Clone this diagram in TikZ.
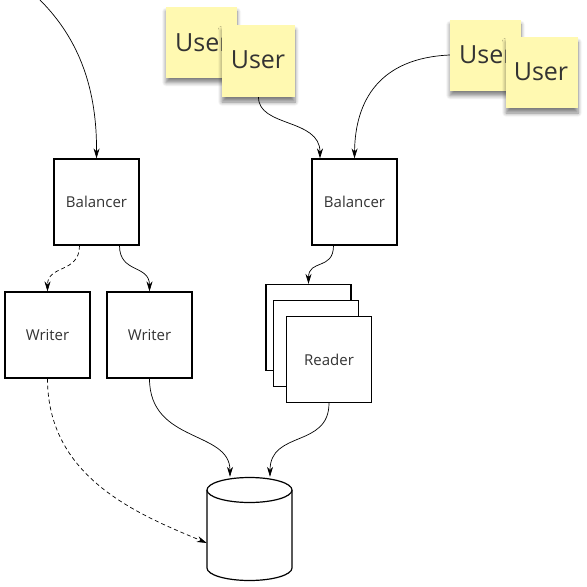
\documentclass[tikz,border=0pt]{standalone}
\usepackage{fontspec}
\setmainfont{Open Sans}
\usetikzlibrary{arrows.meta,shadows.blur}
\definecolor{sticky}{HTML}{FFF9B1}
\definecolor{txt}{HTML}{333333}
\tikzset{
  box/.style={draw=black,line width=1.2pt,fill=white,minimum width=85pt,minimum height=86pt,inner sep=0pt,text=txt,font=\fontsize{15pt}{17pt}\selectfont},
  note/.style={fill=sticky,minimum width=71pt,minimum height=71pt,inner sep=0pt,
    blur shadow={shadow xshift=0pt,shadow yshift=-5pt,shadow blur radius=4pt,shadow blur steps=6,shadow opacity=50}},
  notetext/.style={text=txt,font=\fontsize{25pt}{27pt}\selectfont,inner sep=0pt},
  conn/.style={draw=black,line width=0.7pt,-{Stealth[length=10pt,width=6pt]}},
  dconn/.style={conn,dash pattern=on 4pt off 3pt},
}
\begin{document}
\begin{tikzpicture}[x=1pt,y=-1pt]
\useasboundingbox (0,0) rectangle (587,587);
% sticky notes left
\node[note] (n1) at (201.5,42) {};
\node[notetext,anchor=west] (t1) at (175,43) {User};
\node[note,minimum width=73pt,minimum height=72pt] (n2) at (258.5,61) {};
\node[notetext] (t2) at (258,60) {User};
% sticky notes right
\node[note] (n3) at (485.5,55) {};
\node[notetext,anchor=west] (t3) at (459,55) {User};
\node[note,minimum width=72pt,minimum height=71pt] (n4) at (542,72.5) {};
\node[notetext] (t4) at (541,72) {User};
% boxes
\node[box] (lb) at (96.5,202) {Balancer};
\node[box] (w1) at (47.5,335) {Writer};
\node[box] (w2) at (149.5,335) {Writer};
\node[box] (rb) at (354.5,202) {Balancer};
\node[box] (r1) at (308.5,327.5) {};
\node[box] (r2) at (316,343.5) {};
\node[box] (r3) at (329,359.5) {Reader};
% database cylinder
\node[minimum width=85pt,minimum height=102pt,inner sep=0pt] (db) at (249.5,529) {};
\draw[line width=1.2pt,fill=white] (207,490) -- (207,568) arc[start angle=180,end angle=360,x radius=42.5pt,y radius=12.5pt] -- (292,490);
\draw[line width=1.2pt,fill=white] (249.5,490) ellipse[x radius=42.5pt,y radius=12.5pt];
\coordinate (top) at (40,0);
% connectors
\draw[conn] (top) .. controls (80,40) and (97,90) .. (lb.north);
\draw[dconn] ([xshift=-17pt]lb.south) .. controls ([xshift=-17pt,yshift=-28pt]lb.south) and ([yshift=27pt]w1.north) .. (w1.north);
\draw[conn] ([xshift=23pt]lb.south) .. controls ([xshift=23pt,yshift=-28pt]lb.south) and ([yshift=27pt]w2.north) .. (w2.north);
\draw[conn] (n2.south) .. controls ([yshift=-30pt]n2.south) and ([xshift=-34.5pt,yshift=40pt]rb.north) .. ([xshift=-34.5pt]rb.north);
\draw[conn] (n3.west) .. controls (380,58) and (355,100) .. (rb.north);
\draw[conn] ([xshift=-21pt]rb.south) .. controls ([xshift=-21pt,yshift=-25pt]rb.south) and ([yshift=25pt]r1.north) .. (r1.north);
\draw[dconn] (w1.south) .. controls ([yshift=-100pt]w1.south) and (140,515) .. ([yshift=-14pt]db.west);
\draw[conn] (w2.south) .. controls ([yshift=-65pt]w2.south) and (230,430) .. ([xshift=-19.5pt,yshift=1pt]db.north);
\draw[conn] (r3.south) .. controls ([yshift=-45pt]r3.south) and (270,430) .. ([xshift=20.5pt,yshift=1pt]db.north);
\end{tikzpicture}
\end{document}
